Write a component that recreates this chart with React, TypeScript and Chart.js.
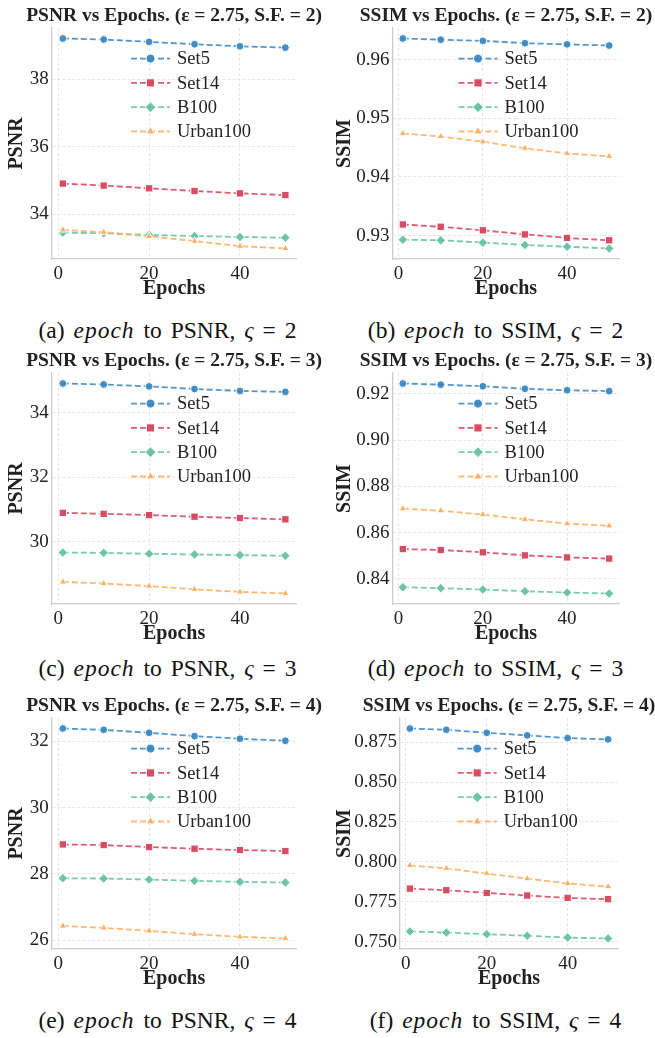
import React, { useEffect, useRef } from 'react';
import { Chart, registerables } from 'chart.js';
Chart.register(...registerables);

const FONT = "'Liberation Serif', 'Times New Roman', serif";

// ---------- data ----------
const EPOCHS = [1, 10, 20, 30, 40, 50];
const SERIES = ['Set5', 'Set14', 'B100', 'Urban100'];
const X_TICKS = [0, 20, 40];

// (a) PSNR, scale factor 2
const psnr2Set5 = [39.2, 39.17, 39.1, 39.03, 38.97, 38.93];
const psnr2Set14 = [34.91, 34.85, 34.77, 34.69, 34.62, 34.57];
const psnr2B100 = [33.46, 33.44, 33.39, 33.36, 33.33, 33.31];
const psnr2Urban = [33.54, 33.47, 33.35, 33.21, 33.06, 32.99];
// (b) SSIM, scale factor 2
const ssim2Set5 = [0.9636, 0.9634, 0.9632, 0.9628, 0.9626, 0.9624];
const ssim2Set14 = [0.9319, 0.9315, 0.9309, 0.9302, 0.9296, 0.9292];
const ssim2B100 = [0.9293, 0.9292, 0.9288, 0.9284, 0.9281, 0.9278];
const ssim2Urban = [0.9474, 0.9469, 0.946, 0.9449, 0.944, 0.9435];
// (c) PSNR, scale factor 3
const psnr3Set5 = [34.91, 34.88, 34.82, 34.74, 34.68, 34.65];
const psnr3Set14 = [30.9, 30.87, 30.83, 30.78, 30.74, 30.7];
const psnr3B100 = [29.67, 29.66, 29.63, 29.61, 29.59, 29.57];
const psnr3Urban = [28.76, 28.71, 28.63, 28.53, 28.45, 28.4];
// (d) SSIM, scale factor 3
const ssim3Set5 = [0.9245, 0.924, 0.9233, 0.9222, 0.9216, 0.9212];
const ssim3Set14 = [0.8529, 0.8525, 0.8515, 0.8502, 0.8493, 0.8488];
const ssim3B100 = [0.8364, 0.836, 0.8354, 0.8347, 0.8341, 0.8337];
const ssim3Urban = [0.8704, 0.8695, 0.8678, 0.8658, 0.8639, 0.863];
// (e) PSNR, scale factor 4
const psnr4Set5 = [32.39, 32.35, 32.26, 32.16, 32.08, 32.02];
const psnr4Set14 = [28.89, 28.87, 28.81, 28.76, 28.72, 28.69];
const psnr4B100 = [27.87, 27.86, 27.83, 27.79, 27.76, 27.74];
const psnr4Urban = [26.43, 26.37, 26.28, 26.18, 26.1, 26.05];
// (f) SSIM, scale factor 4
const ssim4Set5 = [0.8835, 0.8827, 0.8808, 0.8792, 0.8775, 0.8767];
const ssim4Set14 = [0.7833, 0.7823, 0.7806, 0.779, 0.7775, 0.7767];
const ssim4B100 = [0.7565, 0.7558, 0.7548, 0.7538, 0.7527, 0.7521];
const ssim4Urban = [0.7979, 0.796, 0.7927, 0.7896, 0.7865, 0.7846];

// y tick values and labels
const yTicksA = [34, 36, 38];
const yLabelsA = ['34', '36', '38'];
const yTicksB = [0.93, 0.94, 0.95, 0.96];
const yLabelsB = ['0.93', '0.94', '0.95', '0.96'];
const yTicksC = [30, 32, 34];
const yLabelsC = ['30', '32', '34'];
const yTicksD = [0.84, 0.86, 0.88, 0.9, 0.92];
const yLabelsD = ['0.84', '0.86', '0.88', '0.90', '0.92'];
const yTicksE = [26, 28, 30, 32];
const yLabelsE = ['26', '28', '30', '32'];
const yTicksF = [0.75, 0.775, 0.8, 0.825, 0.85, 0.875];
const yLabelsF = ['0.750', '0.775', '0.800', '0.825', '0.850', '0.875'];

// ---------- styles ----------
const COLORS = ['#3A88C4', '#D6455C', '#66C2A5', '#FDAE61'];
const MARKERS = ['circle', 'rect', 'rectRot', 'triangle'];
const RADII = [3.9, 5.2, 4.8, 4.3];

const PLOT_H = 231;
const ROW_T = [27.9, 372.6, 717.5];
const CAPTION_BASE = [339, 677, 1029];

type PanelCfg = {
  title: string;
  yTitle: string;
  series: number[][];
  yTicks: number[];
  yLabels: string[];
  row: number;
  col: number;
  L: number;
  R: number;
  legendDx: number;
  caption: [string, string, string];
};

const PANELS: PanelCfg[] = [
  { title: 'PSNR vs Epochs. (ε = 2.75, S.F. = 2)', yTitle: 'PSNR', series: [psnr2Set5, psnr2Set14, psnr2B100, psnr2Urban], yTicks: yTicksA, yLabels: yLabelsA, row: 0, col: 0, L: 51.7, R: 296.5, legendDx: 79.3, caption: ['(a)', 'PSNR', '2'] },
  { title: 'SSIM vs Epochs. (ε = 2.75, S.F. = 2)', yTitle: 'SSIM', series: [ssim2Set5, ssim2Set14, ssim2B100, ssim2Urban], yTicks: yTicksB, yLabels: yLabelsB, row: 0, col: 1, L: 392.5, R: 619.5, legendDx: 66, caption: ['(b)', 'SSIM', '2'] },
  { title: 'PSNR vs Epochs. (ε = 2.75, S.F. = 3)', yTitle: 'PSNR', series: [psnr3Set5, psnr3Set14, psnr3B100, psnr3Urban], yTicks: yTicksC, yLabels: yLabelsC, row: 1, col: 0, L: 51.7, R: 296.5, legendDx: 79.3, caption: ['(c)', 'PSNR', '3'] },
  { title: 'SSIM vs Epochs. (ε = 2.75, S.F. = 3)', yTitle: 'SSIM', series: [ssim3Set5, ssim3Set14, ssim3B100, ssim3Urban], yTicks: yTicksD, yLabels: yLabelsD, row: 1, col: 1, L: 392.5, R: 619.5, legendDx: 66, caption: ['(d)', 'SSIM', '3'] },
  { title: 'PSNR vs Epochs. (ε = 2.75, S.F. = 4)', yTitle: 'PSNR', series: [psnr4Set5, psnr4Set14, psnr4B100, psnr4Urban], yTicks: yTicksE, yLabels: yLabelsE, row: 2, col: 0, L: 51.7, R: 296.5, legendDx: 79.3, caption: ['(e)', 'PSNR', '4'] },
  { title: 'SSIM vs Epochs. (ε = 2.75, S.F. = 4)', yTitle: 'SSIM', series: [ssim4Set5, ssim4Set14, ssim4B100, ssim4Urban], yTicks: yTicksF, yLabels: yLabelsF, row: 2, col: 1, L: 400, R: 618, legendDx: 57.7, caption: ['(f)', 'SSIM', '4'] },
];

const COL_LEFT = [0, 327];
const COL_W = [327, 328];
const CANVAS_TOP_OFFSET = 26;
const X_AXIS_H = 42;

function hexA(hex: string, a: number) {
  const n = parseInt(hex.slice(1), 16);
  return `rgba(${(n >> 16) & 255},${(n >> 8) & 255},${n & 255},${a})`;
}

function drawMarker(ctx: CanvasRenderingContext2D, style: string, x: number, y: number, r: number, fill: string) {
  ctx.beginPath();
  if (style === 'circle') {
    ctx.arc(x, y, r, 0, Math.PI * 2);
  } else if (style === 'rect') {
    const s = r * Math.SQRT1_2;
    ctx.rect(x - s, y - s, 2 * s, 2 * s);
  } else if (style === 'rectRot') {
    ctx.moveTo(x, y - r);
    ctx.lineTo(x + r, y);
    ctx.lineTo(x, y + r);
    ctx.lineTo(x - r, y);
    ctx.closePath();
  } else {
    const a = -Math.PI / 2;
    for (let k = 0; k < 3; k++) {
      const ang = a + (k * 2 * Math.PI) / 3;
      const px = x + Math.cos(ang) * r;
      const py = y + Math.sin(ang) * r;
      if (k === 0) ctx.moveTo(px, py);
      else ctx.lineTo(px, py);
    }
    ctx.closePath();
  }
  ctx.fillStyle = fill;
  ctx.fill();
  ctx.strokeStyle = '#ffffff';
  ctx.lineWidth = 1;
  ctx.stroke();
}

const decorPlugin = {
  id: 'mplDecor',
  afterDatasetsDraw(chart: any) {
    const o = chart.options.plugins.mplDecor;
    const { ctx, chartArea } = chart;
    ctx.save();
    // title centred over the plot area
    ctx.fillStyle = '#222222';
    ctx.font = `bold 19.5px ${FONT}`;
    ctx.textAlign = 'center';
    ctx.textBaseline = 'middle';
    ctx.fillText(o.title, (chartArea.left + chartArea.right) / 2, chartArea.top - 12.3);
    // legend
    const x0 = chartArea.left + o.dx;
    chart.data.datasets.forEach((ds: any, i: number) => {
      const y = chartArea.top + o.dy + i * o.spacing;
      ctx.save();
      ctx.strokeStyle = ds.borderColor;
      ctx.lineWidth = ds.borderWidth;
      ctx.setLineDash(ds.borderDash);
      ctx.beginPath();
      ctx.moveTo(x0, y);
      ctx.lineTo(x0 + 39, y);
      ctx.stroke();
      ctx.restore();
      drawMarker(ctx, ds.pointStyle, x0 + 19.5, y, ds.pointRadius + 0.6, ds.pointBackgroundColor);
      ctx.fillStyle = '#222222';
      ctx.font = `18.5px ${FONT}`;
      ctx.textAlign = 'left';
      ctx.textBaseline = 'middle';
      ctx.fillText(ds.label, x0 + 46, y + 1);
    });
    ctx.restore();
  },
};

function Panel({ cfg }: { cfg: PanelCfg }) {
  const ref = useRef<HTMLCanvasElement>(null);
  const cLeft = COL_LEFT[cfg.col];
  const cW = COL_W[cfg.col];
  const T = ROW_T[cfg.row];
  const top = T - CANVAS_TOP_OFFSET;
  const H = CANVAS_TOP_OFFSET + PLOT_H + X_AXIS_H;

  useEffect(() => {
    if (!ref.current) return;
    const all = cfg.series.flat();
    const yMin = Math.min(...all);
    const yMax = Math.max(...all);
    const yPad = (yMax - yMin) * 0.05;
    const xMin = Math.min(...EPOCHS);
    const xMax = Math.max(...EPOCHS);
    const xPad = (xMax - xMin) * 0.05;
    const n = SERIES.length;

    const chart = new Chart(ref.current, {
      type: 'line',
      data: {
        datasets: SERIES.map((name, i) => ({
          label: name,
          data: EPOCHS.map((e, k) => ({ x: e, y: cfg.series[i][k] })),
          borderColor: hexA(COLORS[i], 0.88),
          backgroundColor: COLORS[i],
          borderWidth: 1.8,
          borderDash: [6, 3],
          pointStyle: MARKERS[i],
          pointRadius: RADII[i],
          pointBackgroundColor: hexA(COLORS[i], 0.95),
          pointBorderColor: '#ffffff',
          pointBorderWidth: 1,
          tension: 0,
          order: n - i,
        })),
      },
      options: {
        responsive: false,
        animation: false,
        devicePixelRatio: 1,
        events: [],
        layout: { padding: { left: 0, top: CANVAS_TOP_OFFSET, bottom: 0, right: cW - (cfg.R - cLeft) } },
        plugins: {
          legend: { display: false },
          tooltip: { enabled: false },
          title: { display: false },
          mplDecor: { title: cfg.title, dx: cfg.legendDx, dy: 30.6, spacing: 24.3 },
        } as any,
        scales: {
          x: {
            type: 'linear',
            min: xMin - xPad,
            max: xMax + xPad,
            afterFit: (s: any) => { s.height = X_AXIS_H; },
            afterBuildTicks: (s: any) => { s.ticks = X_TICKS.map((v) => ({ value: v })); },
            ticks: {
              autoSkip: false,
              padding: 4,
              color: '#222222',
              font: { family: FONT, size: 19 },
              callback: (v: any) => String(v),
            },
            grid: { color: '#e3e3e3', lineWidth: 0.9, drawTicks: false },
            border: { display: true, color: '#cccccc', width: 1.3, dash: [3, 2] },
            title: {
              display: true,
              text: 'Epochs',
              color: '#222222',
              font: { family: FONT, size: 20, weight: 'bold', lineHeight: 1.2 },
              padding: { top: 0, bottom: 0 },
            },
          },
          y: {
            type: 'linear',
            min: yMin - yPad,
            max: yMax + yPad,
            afterFit: (s: any) => { s.width = cfg.L - cLeft; },
            afterBuildTicks: (s: any) => { s.ticks = cfg.yTicks.map((v) => ({ value: v })); },
            ticks: {
              autoSkip: false,
              padding: 3,
              color: '#222222',
              font: { family: FONT, size: 19 },
              callback: (v: any) => {
                const idx = cfg.yTicks.findIndex((t) => Math.abs(t - v) < 1e-9);
                return idx >= 0 ? cfg.yLabels[idx] : '';
              },
            },
            grid: { color: '#e3e3e3', lineWidth: 0.9, drawTicks: false },
            border: { display: true, color: '#cccccc', width: 1.3, dash: [3, 2] },
            title: {
              display: true,
              text: cfg.yTitle,
              color: '#222222',
              font: { family: FONT, size: 20, weight: 'bold', lineHeight: 1.2 },
              padding: { top: cfg.col === 0 ? 4.7 : 5.7, bottom: 0 },
            },
          },
        },
      },
      plugins: [decorPlugin],
    } as any);
    return () => chart.destroy();
  }, [cfg]);

  return (
    <canvas
      ref={ref}
      width={cW}
      height={H}
      style={{ position: 'absolute', left: cLeft, top, width: cW, height: H }}
    />
  );
}

function Caption({ cfg }: { cfg: PanelCfg }) {
  const base = CAPTION_BASE[cfg.row];
  const center = cfg.col === 0 ? 167.5 : 495.5;
  const w = 326;
  return (
    <div
      style={{
        position: 'absolute',
        left: center - w / 2,
        width: w,
        top: base - 19.6,
        textAlign: 'center',
        fontFamily: FONT,
        fontSize: 23.5,
        lineHeight: '23.5px',
        color: '#111111',
        whiteSpace: 'nowrap',
        wordSpacing: '3px',
      }}
    >
      {cfg.caption[0]} <i style={{ letterSpacing: '1px' }}>epoch</i> to {cfg.caption[1]}, <i>ς</i> = {cfg.caption[2]}
    </div>
  );
}

export default function App() {
  return (
    <div style={{ position: 'absolute', left: 0, top: 0, width: 655, height: 1038, background: '#ffffff', overflow: 'hidden' }}>
      {PANELS.map((p, i) => (
        <Panel key={'p' + i} cfg={p} />
      ))}
      {PANELS.map((p, i) => (
        <Caption key={'c' + i} cfg={p} />
      ))}
    </div>
  );
}
